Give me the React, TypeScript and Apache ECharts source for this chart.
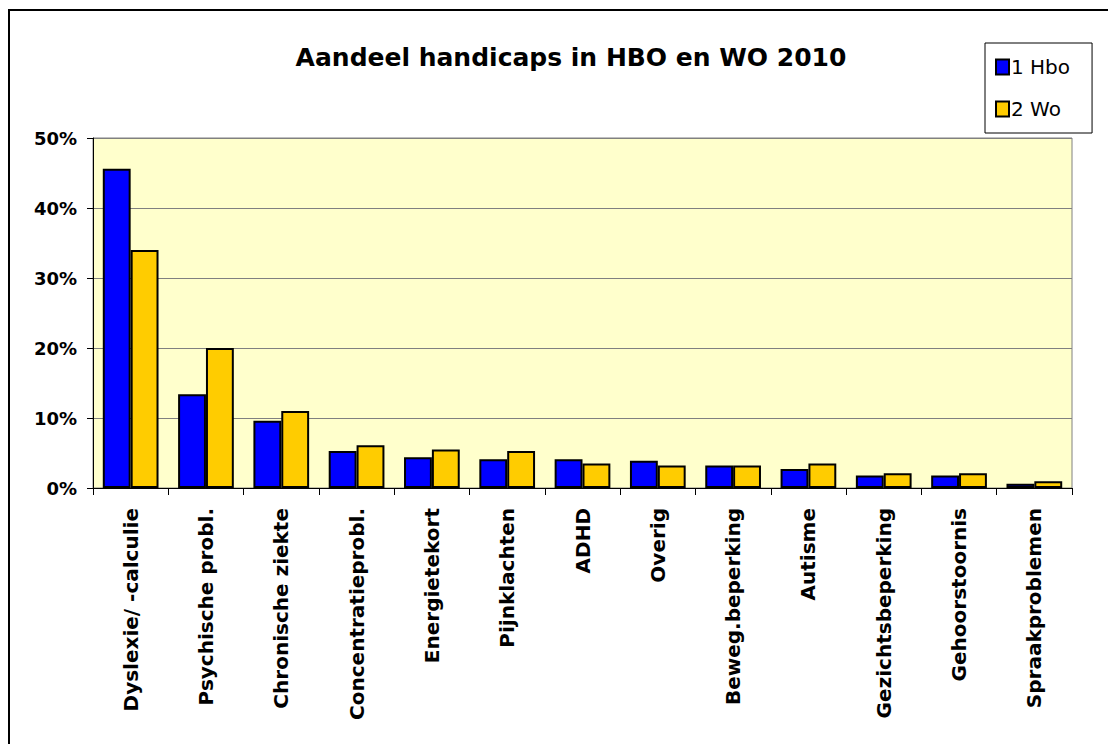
import React, { useEffect, useRef } from "react";
import * as echarts from "echarts";

const categories = [
  "Dyslexie/ -calculie",
  "Psychische probl.",
  "Chronische ziekte",
  "Concentratieprobl.",
  "Energietekort",
  "Pijnklachten",
  "ADHD",
  "Overig",
  "Beweg.beperking",
  "Autisme",
  "Gezichtsbeperking",
  "Gehoorstoornis",
  "Spraakproblemen",
];
const hbo = [45.6, 13.4, 9.6, 5.3, 4.4, 4.1, 4.1, 3.9, 3.2, 2.7, 1.8, 1.8, 0.6];
const wo = [34.0, 20.0, 11.0, 6.1, 5.5, 5.3, 3.5, 3.2, 3.2, 3.5, 2.1, 2.1, 0.95];
const seriesNames = ["1 Hbo", "2 Wo"];
const title = "Aandeel handicaps in HBO en WO 2010";

const FONT = "DejaVu Sans";

export default function App() {
  const ref = useRef<HTMLDivElement>(null);
  useEffect(() => {
    document.body.style.margin = "0";
    const chart = echarts.init(ref.current!, null, { renderer: "svg" });
    chart.setOption({
      animation: false,
      backgroundColor: "#ffffff",
      title: {
        text: title,
        left: 566,
        textAlign: "center",
        top: 40,
        textStyle: { fontFamily: FONT, fontWeight: "bold", fontSize: 25, color: "#000" },
      },
      legend: {
        orient: "vertical",
        left: 985,
        top: 43,
        width: 110,
        padding: [14, 22, 14, 10],
        itemGap: 22,
        itemWidth: 13,
        itemHeight: 15,
        icon: "rect",
        borderColor: "#000",
        borderWidth: 1,
        backgroundColor: "#fff",
        textStyle: { fontFamily: FONT, fontSize: 20, color: "#000", padding: [0, 0, 0, -3] },
        data: seriesNames,
      },
      graphic: [
        {
          type: "rect",
          shape: { x: 9, y: 10, width: 1300, height: 900 },
          style: { fill: "none", stroke: "#000", lineWidth: 2 },
          silent: true,
        },
      ],
      grid: {
        left: 93,
        top: 138,
        right: 36,
        bottom: 256,
        show: true,
        backgroundColor: "#FFFFCC",
        borderColor: "#808080",
        borderWidth: 1,
      },
      xAxis: {
        type: "category",
        data: categories,
        axisLine: { lineStyle: { color: "#000", width: 1 } },
        axisTick: { show: true, length: 7, lineStyle: { color: "#000" } },
        axisLabel: {
          rotate: 90,
          margin: 20,
          interval: 0,
          fontFamily: FONT,
          fontWeight: "bold",
          fontSize: 20,
          color: "#000",
        },
      },
      yAxis: {
        type: "value",
        min: 0,
        max: 50,
        interval: 10,
        axisLine: { show: true, lineStyle: { color: "#000", width: 1 } },
        axisTick: { show: true, length: 6, lineStyle: { color: "#000" } },
        splitLine: { lineStyle: { color: "#808080", width: 1 } },
        axisLabel: {
          formatter: "{value}%",
          margin: 16,
          fontFamily: FONT,
          fontWeight: "bold",
          fontSize: 18,
          color: "#000",
        },
      },
      series: [
        {
          name: seriesNames[0],
          type: "bar",
          data: hbo,
          barGap: "0%",
          barCategoryGap: "26%",
          itemStyle: { color: "#0000FF", borderColor: "#000", borderWidth: 2 },
        },
        {
          name: seriesNames[1],
          type: "bar",
          data: wo,
          barGap: "0%",
          barCategoryGap: "26%",
          itemStyle: { color: "#FFCC00", borderColor: "#000", borderWidth: 2 },
        },
      ],
    });
    return () => chart.dispose();
  }, []);
  return <div ref={ref} style={{ width: 1108, height: 744 }} />;
}
